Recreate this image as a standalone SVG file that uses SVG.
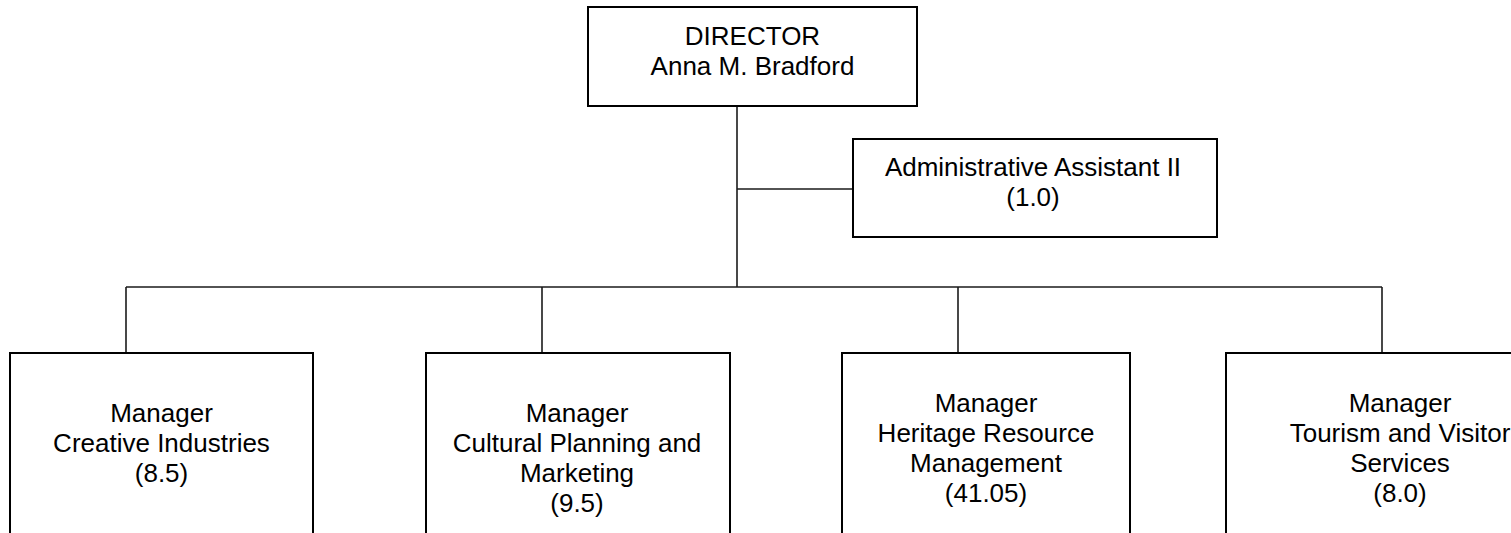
<svg xmlns="http://www.w3.org/2000/svg" width="1511" height="533" viewBox="0 0 1511 533">
  <style>
    .box { fill: #ffffff; stroke: #000000; stroke-width: 2; }
    .link { fill: none; stroke: #1a1a1a; stroke-width: 1.6; }
    .label { font-family: "Liberation Sans", Arial, sans-serif; font-size: 26px; fill: #000000; text-anchor: middle; }
  </style>
  <rect width="1511" height="533" fill="#ffffff"/>

  <!-- reporting lines -->
  <g id="connectors">
    <line class="link" x1="737" y1="106" x2="737" y2="287"/>
    <line class="link" x1="737" y1="189" x2="853" y2="189"/>
    <line class="link" x1="126" y1="287" x2="1382" y2="287"/>
    <line class="link" x1="126" y1="287" x2="126" y2="353"/>
    <line class="link" x1="542" y1="287" x2="542" y2="353"/>
    <line class="link" x1="958" y1="287" x2="958" y2="353"/>
    <line class="link" x1="1382" y1="287" x2="1382" y2="353"/>
  </g>

  <g id="director">
    <rect class="box" x="588" y="7" width="329" height="99"/>
    <text class="label" x="752.5" y="45">DIRECTOR</text>
    <text class="label" x="752.5" y="75">Anna M. Bradford</text>
  </g>

  <g id="admin-assistant">
    <rect class="box" x="853" y="139" width="364" height="98"/>
    <text class="label" x="1033" y="176">Administrative Assistant II</text>
    <text class="label" x="1033" y="206">(1.0)</text>
  </g>

  <g id="creative-industries">
    <rect class="box" x="10" y="353" width="303" height="200"/>
    <text class="label" x="161.5" y="422">Manager</text>
    <text class="label" x="161.5" y="452">Creative Industries</text>
    <text class="label" x="161.5" y="482">(8.5)</text>
  </g>

  <g id="cultural-planning">
    <rect class="box" x="426" y="353" width="304" height="200"/>
    <text class="label" x="577" y="422">Manager</text>
    <text class="label" x="577" y="452">Cultural Planning and</text>
    <text class="label" x="577" y="482">Marketing</text>
    <text class="label" x="577" y="512">(9.5)</text>
  </g>

  <g id="heritage-resource">
    <rect class="box" x="842" y="353" width="288" height="200"/>
    <text class="label" x="986" y="412">Manager</text>
    <text class="label" x="986" y="442">Heritage Resource</text>
    <text class="label" x="986" y="472">Management</text>
    <text class="label" x="986" y="502">(41.05)</text>
  </g>

  <g id="tourism-visitor">
    <rect class="box" x="1226" y="353" width="348" height="200"/>
    <text class="label" x="1400" y="412">Manager</text>
    <text class="label" x="1400" y="442">Tourism and Visitor</text>
    <text class="label" x="1400" y="472">Services</text>
    <text class="label" x="1400" y="502">(8.0)</text>
  </g>
</svg>
